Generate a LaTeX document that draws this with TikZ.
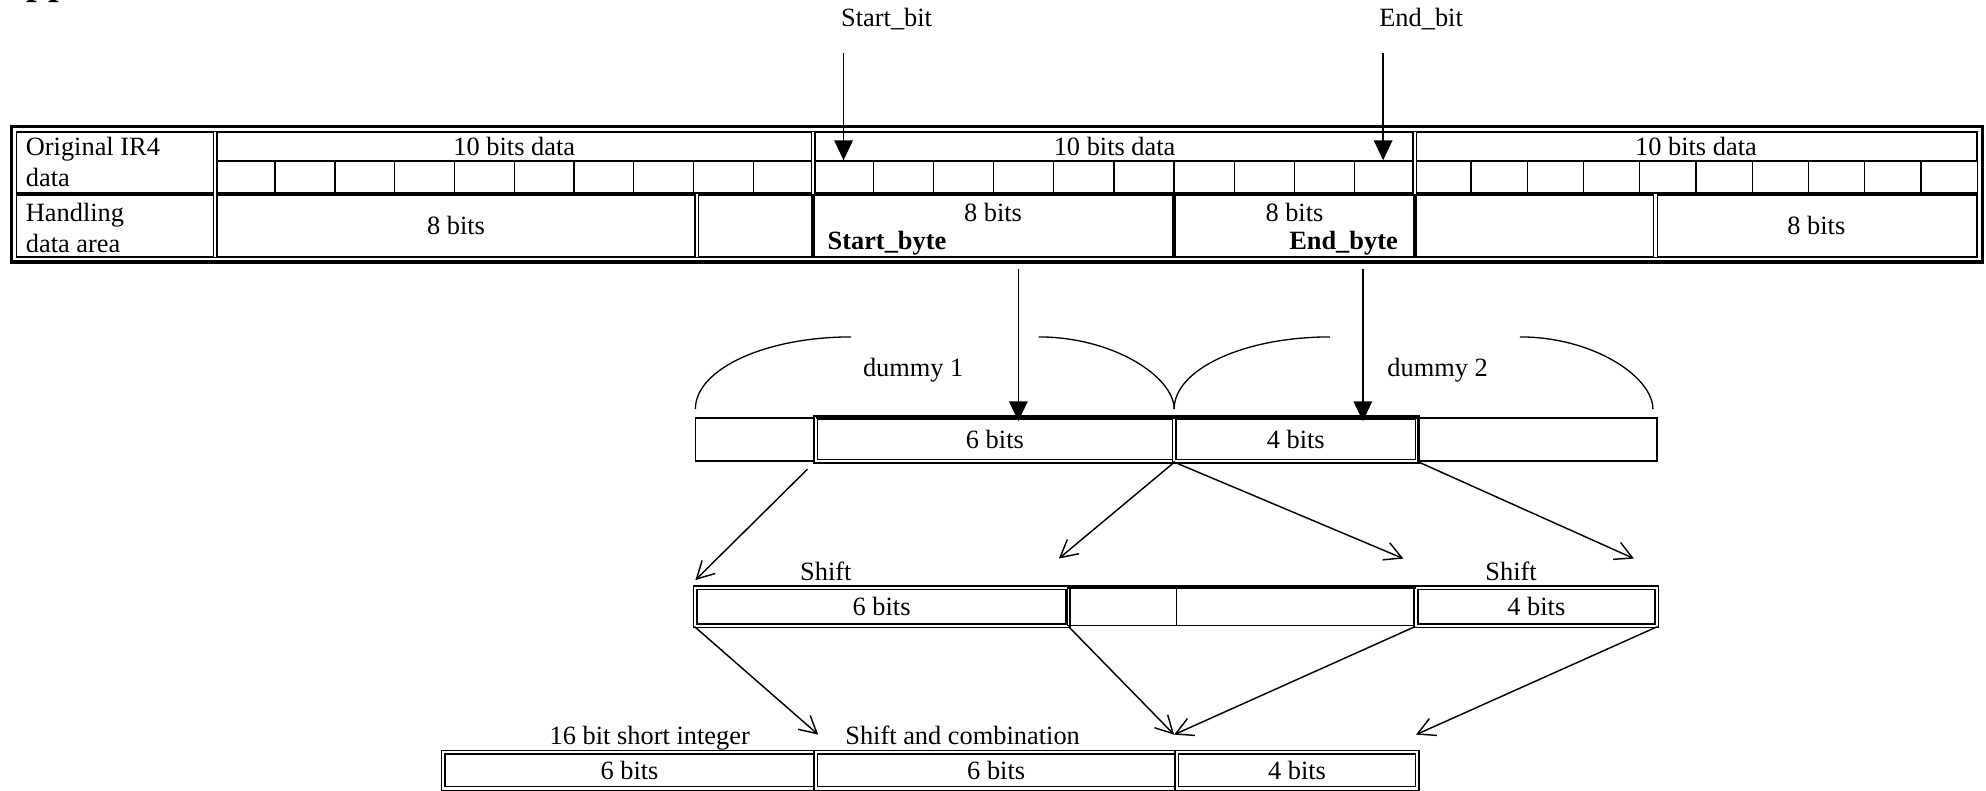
\documentclass[tikz,border=0pt]{standalone}
\usepackage{fontspec}
\setmainfont{Liberation Serif}
\usetikzlibrary{arrows.meta,fit}

\tikzset{
  cell/.style={draw, inner sep=0pt, line width=0.6pt},
  dbl/.style={double, double distance=0.8pt, line width=0.55pt},
  thk/.style={line width=1.3pt},
  hair/.style={line width=0.5pt},
  down arrow/.style={-{Triangle[length=7.5pt,width=7pt]}, line width=0.6pt},
  shift arrow/.style={-{Straight Barb[length=6.5pt,width=7pt]}, line width=0.55pt},
}

\begin{document}
\begin{tikzpicture}[x=0.48pt, y=-0.48pt, font=\fontsize{10}{11.5}\selectfont,
  every node/.style={inner sep=0pt}]
\useasboundingbox (0,0) rectangle (1568,624.5);

% heading, cut off by the page
\node[anchor=base west, font=\fontsize{14.5}{17}\selectfont\bfseries] (title) at (-1,-4) {Appendix};

% ---- upper table ----
\node[cell, fit={(13,104) (170,153)}] (lab1) {};
\node[cell, fit={(13,153) (170,203)}] (lab2) {};
\node[anchor=west, align=left] (lab1t) at (20,128) {Original IR4\\data};
\node[anchor=west, align=left] (lab2t) at (20,180) {Handling\\data area};

\node[cell, fit={(170,104) (642,127)}, label=center:10 bits data] (h1) {};
\node[cell, fit={(642,104) (1117,127)}] (h2) {};
\node[cell, fit={(1117,104) (1561,127)}, label=center:10 bits data] (h3) {};
\node (h2t) at (880,116) {10 bits data};

\foreach \g/\x/\w in {1/170/47.2, 2/642/47.5, 3/1117/44.4}
  \foreach \i in {1,...,10}
    \node[cell, line width=0.5pt, fit={({\x+\w*(\i-1)},127) ({\x+\w*\i},153)}] (g\g-\i) {};

\node[cell, fit={(170,153) (550,203)}, label=center:8 bits] (r1) {};
\node[cell, fit={(550,153) (642,203)}] (r2) {};
\node[cell, fit={(642,153) (927,203)}] (r3) {};
\node[cell, fit={(927,153) (1117,203)}] (r4) {};
\node[cell, fit={(1117,153) (1307,203)}] (r5) {};
\node[cell, fit={(1307,153) (1561,203)}, label=center:8 bits] (r6) {};
\node (r3t) at (784,168) {8 bits};
\node[anchor=west, font=\fontsize{10}{11.5}\selectfont\bfseries] (sbyte) at (653,192) {Start\_byte};
\node (r4t) at (1022,168) {8 bits};
\node[anchor=east, font=\fontsize{10}{11.5}\selectfont\bfseries] (ebyte) at (1104,192) {End\_byte};

% frame and heavy rules
\draw[thk] (9,100) rectangle (1565,207);
\draw[hair] (13,104) rectangle (1561,203);
\draw[thk] (13,153) -- (1561,153);
\draw[dbl] (170,104) -- (170,203);
\draw[dbl] (642,104) -- (642,153);
\draw[dbl] (1117,104) -- (1117,153);
\draw[dbl] (550,153) -- (550,203);
\draw[dbl] (1307,153) -- (1307,203);
\draw[thk] (642,153) -- (642,203) (927,153) -- (927,203) (1117,153) -- (1117,203);

% start and end bit
\node (sbit) at (700,15) {Start\_bit};
\node (ebit) at (1122,15) {End\_bit};
\coordinate (sb) at (666,42);
\coordinate (eb) at (1092,42);
\draw[down arrow] (sb) -- (sb |- g2-1.north);
\draw[down arrow] (eb) -- (eb |- g2-10.north);

% ---- dummy bytes ----
\node[cell, fit={(549,330) (644,364)}] (m0) {};
\node[cell, dbl, fit={(644,330) (927,364)}, label=center:6 bits] (m6) {};
\node[cell, dbl, fit={(927,330) (1119,364)}, label=center:4 bits] (m4) {};
\node[cell, fit={(1119,330) (1308,364)}] (m5) {};
\draw[thk] (644,329.5) -- (1119,329.5);

\coordinate (d1) at (804,212);
\coordinate (d2) at (1076,212);
\draw[down arrow] (d1) -- ([yshift=-1.5pt]d1 |- m6.north);
\draw[down arrow] (d2) -- ([yshift=-1.5pt]d2 |- m4.north);

\draw[hair] (549,323) .. controls (549,291.5) and (604,266) .. (672,266);
\draw[hair] (820,266) .. controls (879,266) and (927,297.5) .. (927,323);
\draw[hair] (927,323) .. controls (927,291.5) and (982,266) .. (1050,266);
\draw[hair] (1200,266) .. controls (1258,266) and (1305,297.5) .. (1305,323);
\node (dm1) at (721,292) {dummy 1};
\node (dm2) at (1135,292) {dummy 2};

% ---- shift ----
\node[cell, dbl, line width=0.65pt, fit={(549,464) (843,494)}, label=center:6 bits] (s6) {};
\node[cell, line width=0.5pt, fit={(843,464) (929,494)}] (sa) {};
\node[cell, line width=0.5pt, fit={(929,464) (1118,494)}] (sb2) {};
\node[cell, dbl, line width=0.65pt, fit={(1118,464) (1308,494)}, label=center:4 bits] (s4) {};
\draw[thk] (843,463.5) -- (1118,463.5);
\node (sh1) at (652,451) {Shift};
\node (sh2) at (1193,451) {Shift};

\coordinate (t1) at (549,458);
\coordinate (t2) at (836,441);
\coordinate (t3) at (1108,441);
\coordinate (t4) at (1290,441);
\draw[shift arrow, shorten <=4pt] (m6.south west) -- (t1);
\draw[shift arrow] (m6.south east) -- (t2);
\draw[shift arrow] (m4.south west) -- (t3);
\draw[shift arrow] (m4.south east) -- (t4);

% ---- short integer ----
\node[cell, dbl, line width=0.65pt, fit={(350,594) (644,622.5)}, label=center:6 bits] (q1) {};
\node[cell, dbl, line width=0.65pt, fit={(644,594) (929,622.5)}, label=center:6 bits] (q2) {};
\node[cell, dbl, line width=0.65pt, fit={(929,594) (1119,622.5)}, label=center:4 bits] (q3) {};
\node[anchor=base] (int) at (513,588) {16 bit short integer};
\node[anchor=base] (comb) at (760,588) {Shift and combination};

\coordinate (u1) at (646,580);
\coordinate (u2) at (927,580);
\coordinate (u3) at (1118,580);
\draw[shift arrow] (s6.south west) -- (u1);
\draw[shift arrow] (s6.south east) -- (u2);
\draw[shift arrow] (s4.south west) -- (u2);
\draw[shift arrow] (s4.south east) -- (u3);
\end{tikzpicture}
\end{document}
